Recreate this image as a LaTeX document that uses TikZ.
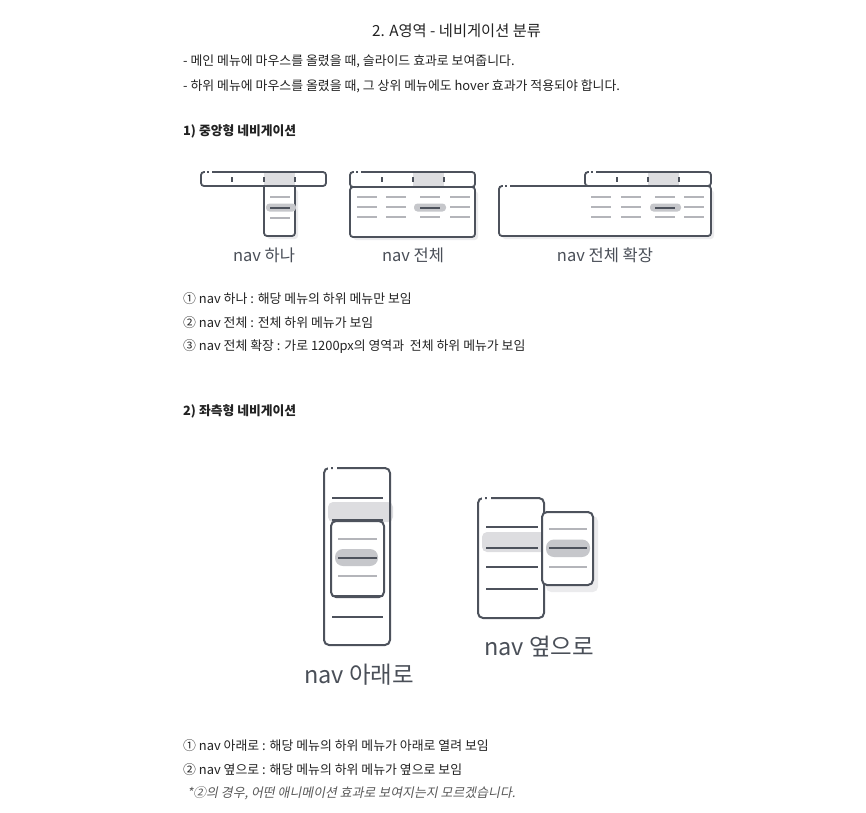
\documentclass[tikz,border=0pt]{standalone}
\usepackage{fontspec}
\setmainfont{Noto Sans CJK KR}
\newfontfamily\slfont[FakeSlant=0.2]{Noto Sans CJK KR}
\definecolor{dk}{HTML}{4D525C}
\definecolor{lt}{HTML}{B4B5BA}
\definecolor{hlc}{HTML}{DDDDE0}
\definecolor{pillc}{HTML}{C6C7CB}
\definecolor{shc}{HTML}{EBEBED}
\definecolor{txt}{HTML}{222222}
\definecolor{lbl}{HTML}{4A4F58}
\begin{document}
\begin{tikzpicture}[x=1pt,y=-1pt,
  outline/.style={draw=dk,line width=1.8,rounded corners=3},
  bigout/.style={draw=dk,line width=2,rounded corners=5},
  liteline/.style={draw=lt,line width=1.5},
  dkline/.style={draw=dk,line width=2},
  tick/.style={draw=dk,line width=1.4},
  hl/.style={fill=hlc},
  pill/.style={fill=pillc,rounded corners=3.5},
  shad/.style={fill=shc},
  cut/.style={fill=white},
  body/.style={anchor=base west,inner sep=0,text=txt,font=\fontsize{12.9}{15}\selectfont},
  head/.style={anchor=base west,inner sep=0,text=txt,font=\fontsize{12.8}{15}\selectfont\bfseries},
  lab/.style={anchor=base,inner sep=0,text=lbl,font=\fontsize{16.5}{19}\selectfont},
  biglab/.style={anchor=base,inner sep=0,text=lbl,font=\fontsize{23.5}{27}\selectfont},
]
\useasboundingbox (0,0) rectangle (866,812);

% ---------- texts ----------
\node[anchor=base,inner sep=0,text=txt,font=\fontsize{15.3}{18}\selectfont] (title) at (456.5,36) {2. A영역 - 네비게이션 분류};
\node[body] (d1) at (183,65) {- 메인 메뉴에 마우스를 올렸을 때, 슬라이드 효과로 보여줍니다.};
\node[body] (d2) at (183,90) {- 하위 메뉴에 마우스를 올렸을 때, 그 상위 메뉴에도 hover 효과가 적용되야 합니다.};
\node[head] (h1) at (183,135) {1) 중앙형 네비게이션};
\node[lab] (l1) at (264,261) {nav 하나};
\node[lab] (l2) at (413,261) {nav 전체};
\node[lab] (l3) at (605,261) {nav 전체 확장};
\node[body] (a1) at (183,303) {① nav 하나 : 해당 메뉴의 하위 메뉴만 보임};
\node[body] (a2) at (183,327) {② nav 전체 : 전체 하위 메뉴가 보임};
\node[body] (a3) at (183,350) {③ nav 전체 확장 : 가로 1200px의 영역과\ \ 전체 하위 메뉴가 보임};
\node[head] (h2) at (183,415) {2) 좌측형 네비게이션};
\node[biglab] (l4) at (359,683) {nav 아래로};
\node[biglab] (l5) at (539,655) {nav 옆으로};
\node[body] (b1) at (183,750) {① nav 아래로 : 해당 메뉴의 하위 메뉴가 아래로 열려 보임};
\node[body] (b2) at (183,774) {② nav 옆으로 : 해당 메뉴의 하위 메뉴가 옆으로 보임};
\node[body,text=black!65,font=\fontsize{12.9}{15}\slfont] (b3) at (187,797) {*②의 경우, 어떤 애니메이션 효과로 보여지는지 모르겠습니다.};

% ---------- icon: nav 하나 ----------
\fill[shad,rounded corners=3] (267,189) rectangle (298,239);
\fill[hl] (264,172) rectangle (295,187);
\draw[outline] (201,172) rectangle (326,186);
\fill[cut] (204.5,170) rectangle (206.5,174);
\fill[cut] (208.5,170) rectangle (212,174);
\fill[white] (265,187) rectangle (294,235);
\draw[outline] (264,186) -- (264,236) -- (295,236) -- (295,186);
\draw[tick] (232,177) -- (232,182);
\draw[tick] (264,177) -- (264,182);
\draw[tick] (295,177) -- (295,182);
\fill[pill] (266,203.5) rectangle (296,211.5);
\draw[liteline] (270,197) -- (290,197);
\draw[dkline] (270,207.5) -- (290,207.5);
\draw[liteline] (270,218) -- (290,218);

% ---------- icon: nav 전체 ----------
\fill[shad,rounded corners=3] (353,191) rectangle (478,240);
\fill[white,rounded corners=3] (350,187) rectangle (475,237);
\fill[hl] (413,172) rectangle (444,187);
\draw[outline] (350,172) rectangle (475,187);
\draw[outline] (350,187) rectangle (475,237);
\fill[cut] (353.5,170) rectangle (355.5,174);
\fill[cut] (357.5,170) rectangle (361,174);
\draw[tick] (382,177) -- (382,182);
\draw[tick] (413,177) -- (413,182);
\draw[tick] (444,177) -- (444,182);
\fill[pill] (414,203.5) rectangle (446,211.5);
\foreach \xa/\xb in {357/377,386/406,420/440,450/470}{
  \draw[liteline] (\xa,197) -- (\xb,197);
  \draw[liteline] (\xa,217) -- (\xb,217);
}
\foreach \xa/\xb in {357/377,386/406,450/470}{
  \draw[liteline] (\xa,207) -- (\xb,207);
}
\draw[dkline] (420,207.5) -- (440,207.5);

% ---------- icon: nav 전체 확장 ----------
\fill[shad,rounded corners=3] (502,190) rectangle (714,239);
\fill[white,rounded corners=3] (499,186) rectangle (711,236);
\fill[hl] (648,172) rectangle (679,187);
\draw[outline] (585,172) rectangle (711,186);
\fill[cut] (588.5,170) rectangle (590.5,174);
\fill[cut] (592.5,170) rectangle (596,174);
\draw[outline] (499,186) rectangle (711,236);
\fill[cut] (502.5,184) rectangle (504.5,188);
\fill[cut] (506.5,184) rectangle (510,188);
\draw[tick] (617,177) -- (617,182);
\draw[tick] (648,177) -- (648,182);
\draw[tick] (679,177) -- (679,182);
\fill[pill] (650,203.5) rectangle (681,211.5);
\foreach \xa/\xb in {591/611,621/641,655/675,684/704}{
  \draw[liteline] (\xa,197) -- (\xb,197);
  \draw[liteline] (\xa,217) -- (\xb,217);
}
\foreach \xa/\xb in {591/611,621/641,684/704}{
  \draw[liteline] (\xa,207) -- (\xb,207);
}
\draw[dkline] (655,207.5) -- (675,207.5);

% ---------- icon: nav 아래로 ----------
\fill[hl,rounded corners=5] (328,502) rectangle (393,522);
\draw[bigout] (324,468) rectangle (390,645);
\fill[cut] (328,466) rectangle (330.5,470);
\fill[cut] (333,466) rectangle (336.5,470);
\draw[dkline] (332,498) -- (383,498);
\fill[white,rounded corners=5] (331,521) rectangle (384,597);
\draw[dkline] (332,520) -- (383,520);
\draw[bigout] (331,521) rectangle (384,597);
\fill[pill,rounded corners=8] (335,549) rectangle (378,566);
\draw[liteline] (338,539) -- (377,539);
\draw[dkline] (338,557.5) -- (377,557.5);
\draw[liteline] (338,576) -- (377,576);
\draw[dkline] (332,596) -- (383,596);
\draw[dkline] (332,617) -- (383,617);

% ---------- icon: nav 옆으로 ----------
\fill[hl,rounded corners=5] (482,532) rectangle (546,552);
\draw[bigout] (478,498) rectangle (544,618);
\fill[cut] (482,496) rectangle (484.5,500);
\fill[cut] (487,496) rectangle (490.5,500);
\draw[dkline] (486,527) -- (538,527);
\draw[dkline] (486,548) -- (538,548);
\draw[dkline] (486,567) -- (538,567);
\draw[dkline] (486,589) -- (538,589);
\fill[shad,rounded corners=5] (546,516) rectangle (598,592);
\fill[white,rounded corners=5] (542,512) rectangle (593,585);
\draw[bigout] (542,512) rectangle (593,585);
\fill[pill,rounded corners=8] (546,539.5) rectangle (590,557);
\draw[liteline] (549,529) -- (587,529);
\draw[dkline] (549,548) -- (587,548);
\draw[liteline] (549,567) -- (587,567);
\end{tikzpicture}
\end{document}
